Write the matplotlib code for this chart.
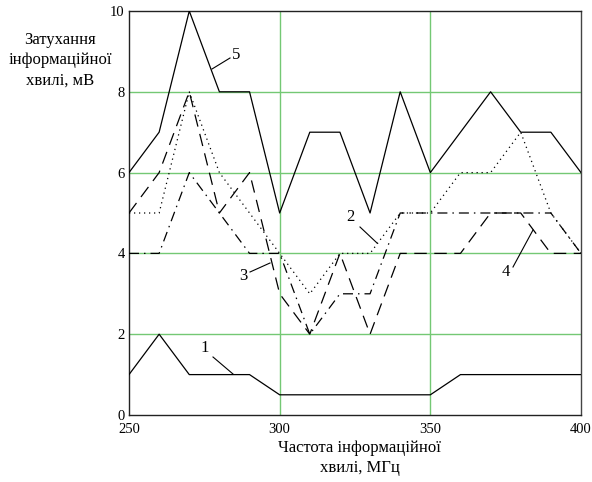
import matplotlib
matplotlib.use("Agg")
import matplotlib.pyplot as plt

freq = [250, 260, 270, 280, 290, 300, 310, 320, 330, 340, 350, 360, 370, 380, 390, 400]
s1 = [1, 2, 1, 1, 1, 0.5, 0.5, 0.5, 0.5, 0.5, 0.5, 1, 1, 1, 1, 1]
s2 = [5, 5, 8, 6, 5, 4, 3, 4, 4, 5, 5, 6, 6, 7, 5, 4]
s3 = [4, 4, 6, 5, 4, 4, 2, 3, 3, 5, 5, 5, 5, 5, 5, 4]
s4 = [5, 6, 8, 5, 6, 3, 2, 4, 2, 4, 4, 4, 5, 5, 4, 4]
s5 = [6, 7, 10, 8, 8, 5, 7, 7, 5, 8, 6, 7, 8, 7, 7, 6]
x_ticks = [250, 300, 350, 400]
y_ticks = [0, 2, 4, 6, 8, 10]

plt.rcParams['font.family'] = ['Liberation Serif', 'DejaVu Serif']

fig = plt.figure(figsize=(5.92, 4.82), dpi=100)
ax = fig.add_axes([129/592, 1-415/482, (581-129)/592, (415-11)/482])

grid_c = '#74c874'
for gx in [300, 350]:
    ax.axvline(gx, color=grid_c, lw=1.0, zorder=1)
for gy in [2, 4, 6, 8]:
    ax.axhline(gy, color=grid_c, lw=1.0, zorder=1)

ax.plot(freq, s1, color='black', lw=0.9, zorder=3)
ax.plot(freq, s2, color='black', lw=0.9, ls=(0, (1, 3)), zorder=3)
ax.plot(freq, s3, color='black', lw=0.9, ls=(0, (8, 4, 1.2, 4)), zorder=3)
ax.plot(freq, s4, color='black', lw=0.9, ls=(0, (10, 6)), zorder=3)
ax.plot(freq, s5, color='black', lw=0.9, zorder=3)

ax.set_xlim(250, 400)
ax.set_ylim(0, 10)
ax.set_xticks(x_ticks)
ax.set_yticks(y_ticks)
ax.tick_params(length=0, labelsize=10.5)
ax.tick_params(axis='y', pad=3)
ax.tick_params(axis='x', pad=6)
for sp in ax.spines.values():
    sp.set_color('#222222')
    sp.set_linewidth(1.0)
ax.spines['right'].set_color('#444444')

def px2d(px, py):
    return 250 + (px - 129) / (581 - 129) * 150, (415 - py) / (415 - 11) * 10

def lab(txt, tpx, tpy, a, b):
    tx, ty = px2d(tpx, tpy)
    x0, y0 = px2d(*a)
    x1, y1 = px2d(*b)
    ax.text(tx, ty, txt, fontsize=12, ha='center', va='center', zorder=4)
    ax.plot([x0, x1], [y0, y1], color='black', lw=0.8, zorder=4)

lab('5', 236, 55, (212, 69), (230, 58))
lab('1', 205, 348, (213, 357), (233, 374))
lab('2', 350, 217, (360, 227), (377, 243))
lab('3', 243, 276, (250, 272), (270, 263))
lab('4', 506, 272, (513, 267), (533, 230))

fig.text(60/592, 1-60/482, 'Затухання\nінформаційної\nхвилі, мВ', fontsize=12,
         ha='center', va='center', linespacing=1.35)
fig.text(360/592, 1-458/482, 'Частота інформаційної\nхвилі, МГц', fontsize=12,
         ha='center', va='center', linespacing=1.3)

fig.savefig('out.png', dpi=100)
